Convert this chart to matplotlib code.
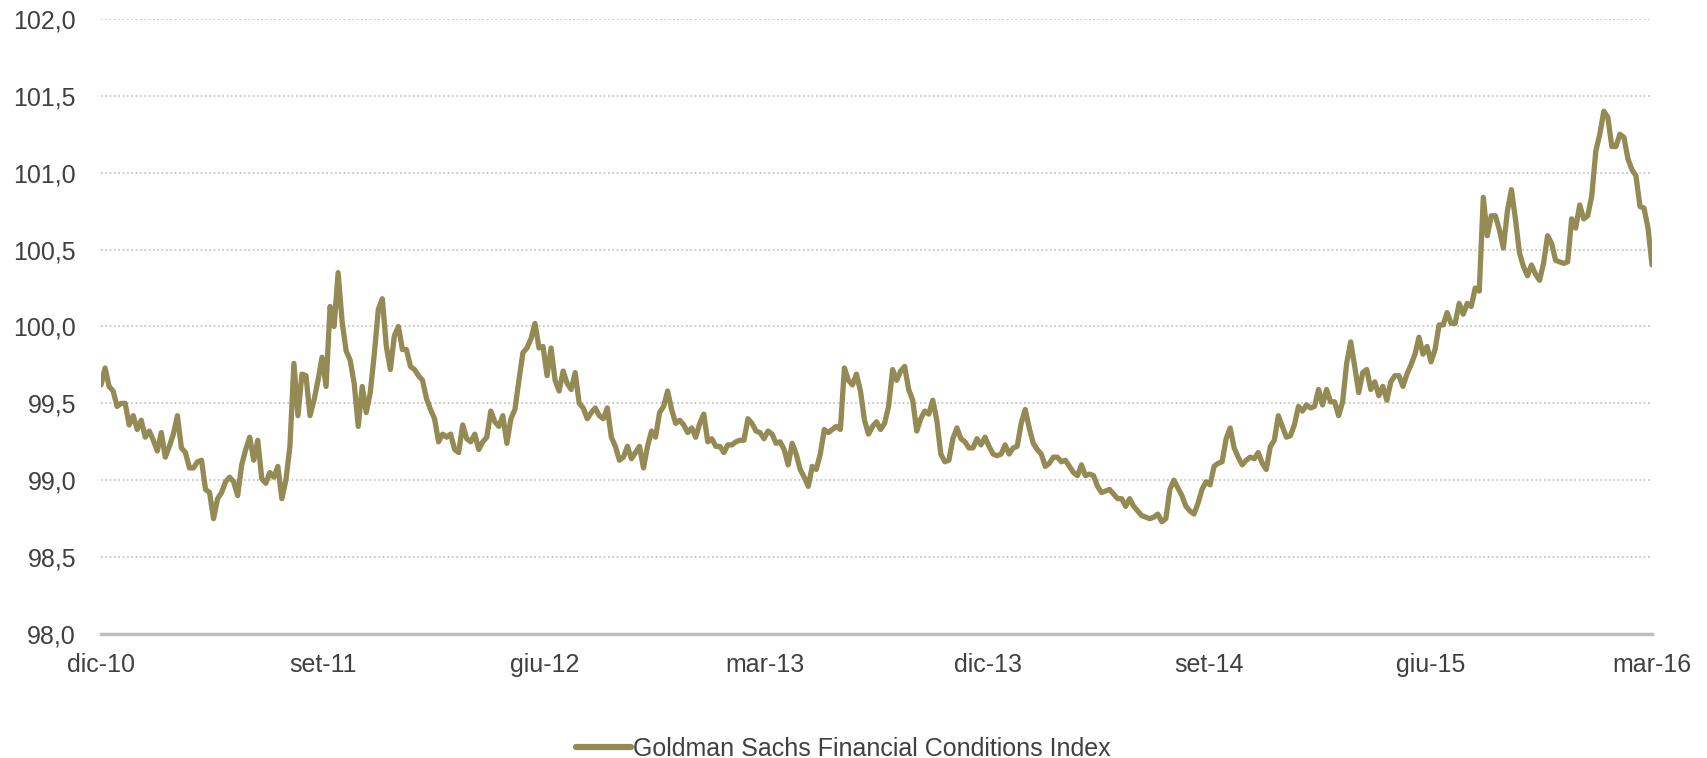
"""Goldman Sachs Financial Conditions Index, dic-10 .. mar-16."""
import matplotlib

matplotlib.use("Agg")
import matplotlib.pyplot as plt
import numpy as np
import pandas as pd

plt.rcParams["font.family"] = ["Liberation Sans", "DejaVu Sans"]

START, END = "2010-12-15", "2016-03-15"

# index values, evenly spaced between START and END
fci_2011 = [
    99.62, 99.73, 99.61, 99.58, 99.48, 99.50, 99.50, 99.36, 99.42, 99.33,
    99.39, 99.28, 99.32, 99.26, 99.19, 99.31, 99.15, 99.22, 99.30, 99.42,
    99.21, 99.18, 99.08, 99.08, 99.12, 99.13, 98.94, 98.92, 98.75, 98.88,
    98.92, 98.99, 99.02, 98.99, 98.90, 99.10, 99.20, 99.28, 99.13, 99.26,
    99.01, 98.98, 99.05, 99.02, 99.09, 98.88, 99.00, 99.22, 99.76, 99.42,
    99.69, 99.68, 99.42, 99.52, 99.65, 99.80, 99.61, 100.13, 100.00, 100.35,
    100.03, 99.84, 99.78, 99.63, 99.35, 99.61, 99.44, 99.57, 99.82, 100.11,
    100.18, 99.87, 99.72, 99.94, 100.00, 99.85, 99.85, 99.74, 99.72,
]
fci_2012 = [
    99.68, 99.65, 99.53, 99.46, 99.40, 99.25, 99.30, 99.28, 99.30, 99.20,
    99.18, 99.36, 99.27, 99.25, 99.30, 99.20, 99.25, 99.28, 99.45, 99.38,
    99.35, 99.42, 99.24, 99.40, 99.46, 99.65, 99.83, 99.86, 99.92, 100.02,
    99.86, 99.87, 99.68, 99.86, 99.65, 99.58, 99.71, 99.63, 99.59, 99.70,
    99.50, 99.47, 99.40, 99.44, 99.47, 99.42, 99.40, 99.47, 99.28, 99.22,
    99.13, 99.15, 99.22, 99.14, 99.18, 99.22, 99.08, 99.22, 99.32, 99.28,
    99.44, 99.48, 99.58, 99.46, 99.37, 99.39, 99.36, 99.31, 99.34, 99.28,
    99.37, 99.43, 99.25, 99.27, 99.22, 99.22, 99.18, 99.23,
]
fci_2013 = [
    99.23, 99.25, 99.26, 99.26, 99.40, 99.37, 99.32, 99.31, 99.27, 99.32,
    99.30, 99.24, 99.25, 99.20, 99.10, 99.24, 99.17, 99.07, 99.02, 98.96,
    99.09, 99.07, 99.17, 99.33, 99.31, 99.33, 99.35, 99.33, 99.73, 99.65,
    99.62, 99.69, 99.58, 99.39, 99.30, 99.35, 99.38, 99.33, 99.37, 99.48,
    99.72, 99.65, 99.71, 99.74, 99.59, 99.52, 99.32, 99.40, 99.45, 99.43,
    99.52, 99.39, 99.17, 99.12, 99.13, 99.27, 99.34, 99.27, 99.25, 99.21,
    99.21, 99.27, 99.23, 99.28, 99.22, 99.17, 99.16, 99.17, 99.23, 99.17,
    99.21, 99.22, 99.37, 99.46, 99.34, 99.24, 99.20, 99.17, 99.09,
]
fci_2014 = [
    99.11, 99.15, 99.15, 99.12, 99.13, 99.09, 99.05, 99.03, 99.10, 99.03,
    99.04, 99.03, 98.96, 98.92, 98.93, 98.94, 98.91, 98.88, 98.88, 98.83,
    98.88, 98.83, 98.80, 98.77, 98.76, 98.75, 98.76, 98.78, 98.73, 98.75,
    98.94, 99.00, 98.95, 98.90, 98.83, 98.80, 98.78, 98.85, 98.94, 98.99,
    98.97, 99.09, 99.11, 99.12, 99.27, 99.34, 99.21, 99.15, 99.10, 99.13,
    99.15, 99.14, 99.18, 99.11, 99.07, 99.22, 99.26, 99.42, 99.35, 99.28,
    99.29, 99.36, 99.48, 99.45, 99.49, 99.47, 99.48, 99.59, 99.49, 99.59,
    99.51, 99.51, 99.42, 99.51, 99.76, 99.90, 99.74, 99.57,
]
fci_2015_16 = [
    99.70, 99.72, 99.59, 99.64, 99.55, 99.61, 99.52, 99.64, 99.68, 99.68,
    99.61, 99.69, 99.75, 99.82, 99.93, 99.82, 99.87, 99.77, 99.85, 100.01,
    100.01, 100.09, 100.02, 100.02, 100.15, 100.08, 100.15, 100.13, 100.25, 100.23,
    100.84, 100.59, 100.72, 100.72, 100.63, 100.51, 100.75, 100.89, 100.70, 100.48,
    100.39, 100.33, 100.40, 100.34, 100.30, 100.41, 100.59, 100.54, 100.43, 100.42,
    100.41, 100.42, 100.70, 100.64, 100.79, 100.70, 100.72, 100.85, 101.14, 101.25,
    101.40, 101.36, 101.17, 101.17, 101.25, 101.23, 101.09, 101.02, 100.98, 100.78,
    100.77, 100.64, 100.40,
]

x_labels = ["dic-10", "set-11", "giu-12", "mar-13", "dic-13", "set-14", "giu-15", "mar-16"]
y_ticks = np.arange(98.0, 102.01, 0.5)

LINE = "#948A54"
GREY = "#BFBFBF"
TEXT = "#404040"


def main() -> None:
    fci = fci_2011 + fci_2012 + fci_2013 + fci_2014 + fci_2015_16
    dates = pd.date_range(START, END, periods=len(fci))
    tick_dates = pd.date_range(START, periods=len(x_labels), freq=pd.DateOffset(months=9))

    fig = plt.figure(figsize=(17.07, 7.58), dpi=100)
    ax = fig.add_axes([0.0592, 0.1636, 0.9086, 0.8114])
    ax.plot(dates, fci, color=LINE, lw=3.8, solid_joinstyle="round",
            solid_capstyle="round", label="Goldman Sachs Financial Conditions Index")

    ax.set_xlim(dates[0], dates[-1])
    ax.set_ylim(98.0, 102.0)
    ax.set_yticks(y_ticks)
    ax.set_yticklabels([f"{v:.1f}".replace(".", ",") for v in y_ticks])
    ax.set_xticks(tick_dates)
    ax.set_xticklabels(x_labels)

    ax.grid(axis="y", color=GREY, lw=1.2, ls=(0, (1, 1.6)))
    ax.set_axisbelow(True)
    for side in ("top", "right", "left"):
        ax.spines[side].set_visible(False)
    ax.spines["bottom"].set_color(GREY)
    ax.spines["bottom"].set_linewidth(2.5)
    ax.tick_params(axis="both", length=0, labelsize=18, colors=TEXT)
    ax.tick_params(axis="y", pad=18)
    ax.tick_params(axis="x", pad=14)

    leg = fig.legend(loc="center", bbox_to_anchor=(0.494, 0.012), frameon=False,
                     fontsize=18, handlelength=2.2, handletextpad=0.05, borderpad=0)
    for t in leg.get_texts():
        t.set_color(TEXT)
    for h in leg.get_lines():
        h.set_linewidth(4.5)

    fig.savefig("out.png", dpi=100)
    plt.close(fig)


if __name__ == "__main__":
    main()
